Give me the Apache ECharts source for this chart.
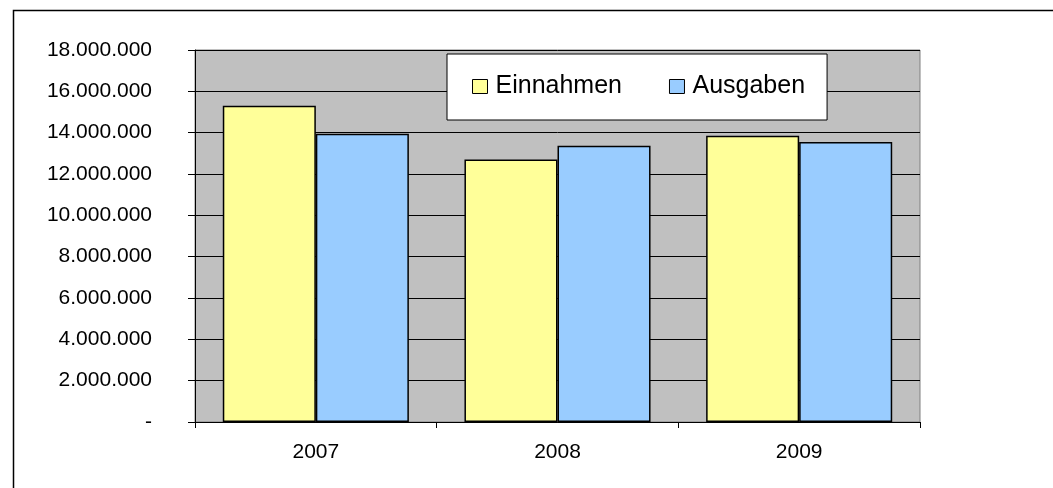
<!DOCTYPE html>
<html>
<head>
<meta charset="utf-8">
<script src="https://cdn.jsdelivr.net/npm/echarts@6/dist/echarts.min.js"></script>
<style>
html, body { margin: 0; padding: 0; background: #fff; }
#chart { width: 1053px; height: 488px; }
</style>
</head>
<body>
<div id="chart"></div>
<script>
var years = ['2007', '2008', '2009'];
var einnahmen = [15300000, 12700000, 13850000];
var ausgaben = [13950000, 13370000, 13550000];

function fmt(v) {
    if (v === 0) return '-';
    return String(v).replace(/\B(?=(\d{3})+(?!\d))/g, '.');
}

var myChart = echarts.init(document.getElementById('chart'));
var option = {
    animation: false,
    textStyle: { fontFamily: 'Liberation Sans, Arial, sans-serif' },
    graphic: [{
        type: 'rect',
        shape: { x: 13.5, y: 10.5, width: 1100, height: 600 },
        style: { fill: 'none', stroke: '#000', lineWidth: 1.5 },
        z: -10
    }],
    grid: { left: 195, right: 133, top: 50, bottom: 66, show: true, backgroundColor: '#c0c0c0', borderColor: '#808080', borderWidth: 1 },
    legend: {
        left: 447, top: 54,
        padding: [20, 22, 21, 25],
        backgroundColor: '#fff',
        borderColor: '#000',
        borderWidth: 1,
        itemWidth: 15, itemHeight: 14, itemGap: 47,
        textStyle: { fontSize: 25, color: '#000', padding: [0, 0, 0, 3], fontFamily: 'Liberation Sans, Arial, sans-serif' },
        data: [
            { name: 'Einnahmen', icon: 'rect', itemStyle: { borderColor: '#000', borderWidth: 1 } },
            { name: 'Ausgaben', icon: 'rect', itemStyle: { borderColor: '#000', borderWidth: 1 } }
        ]
    },
    xAxis: {
        type: 'category',
        data: years,
        axisLine: { lineStyle: { color: '#000', width: 1 } },
        axisTick: { show: true, length: 6, lineStyle: { color: '#000' } },
        axisLabel: { fontSize: 21, color: '#000', margin: 20 }
    },
    yAxis: {
        type: 'value',
        min: 0, max: 18000000, interval: 2000000,
        axisLine: { show: true, lineStyle: { color: '#000', width: 1 } },
        axisTick: { show: true, length: 7, lineStyle: { color: '#000' } },
        splitLine: { lineStyle: { color: '#000', width: 1 } },
        axisLabel: { fontSize: 21, color: '#000', margin: 43, formatter: fmt }
    },
    series: [
        {
            name: 'Einnahmen', type: 'bar', data: einnahmen,
            barGap: '0%', barCategoryGap: '23%',
            itemStyle: { color: '#ffff99', borderColor: '#000', borderWidth: 1.5 }
        },
        {
            name: 'Ausgaben', type: 'bar', data: ausgaben,
            itemStyle: { color: '#99ccff', borderColor: '#000', borderWidth: 1.5 }
        }
    ]
};
myChart.setOption(option);
</script>
</body>
</html>
